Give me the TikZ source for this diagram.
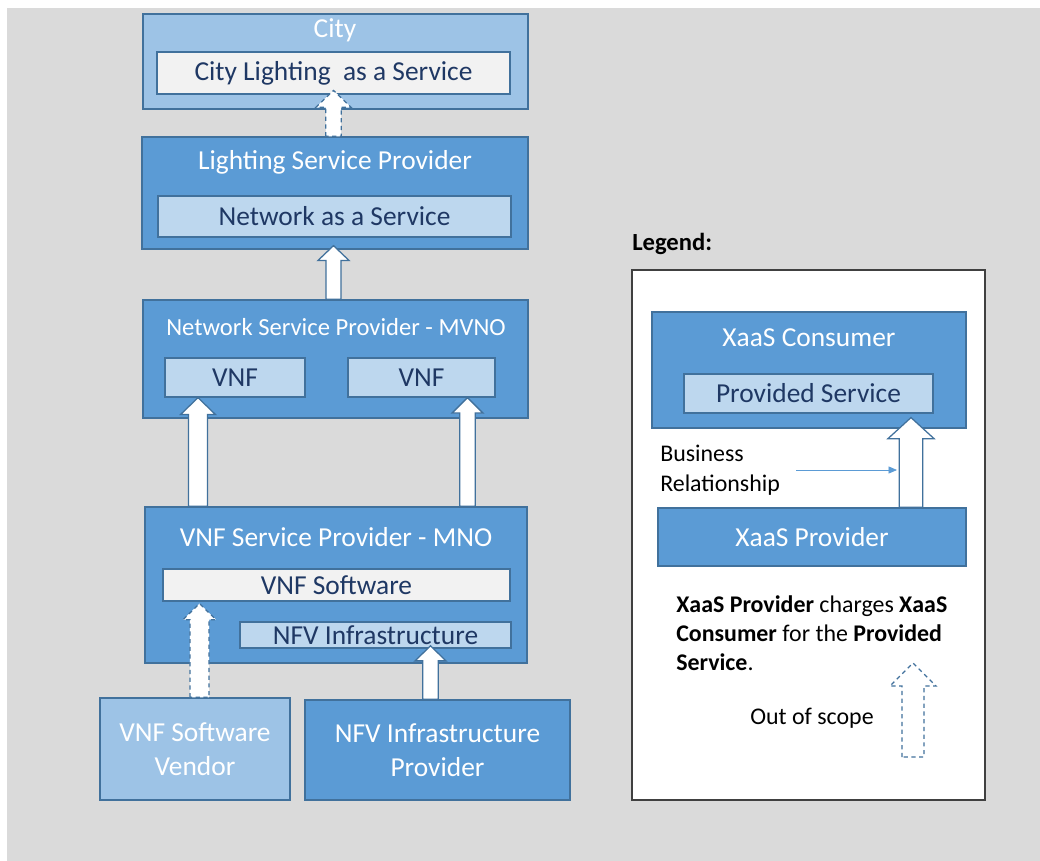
\documentclass[tikz,border=0pt]{standalone}
\usepackage{fontspec}
\setmainfont{Carlito}
\usepackage{tikz}
\usetikzlibrary{arrows.meta,positioning,calc}
\usepackage{xcolor}

\definecolor{bggray}{RGB}{218,218,218}
\definecolor{darkfill}{RGB}{91,155,213}
\definecolor{lightfill}{RGB}{157,195,230}
\definecolor{palefill}{RGB}{189,215,238}
\definecolor{offwhite}{RGB}{242,242,242}
\definecolor{edgeblue}{RGB}{65,113,156}
\definecolor{navytext}{RGB}{31,56,100}
\definecolor{legendedge}{RGB}{64,64,64}

\tikzset{
	sz/.style 2 args={minimum width=#1*0.025cm,minimum height=#2*0.025cm},
	bigfont/.style={font=\fontsize{19.5}{24}\selectfont},
	smallfont/.style={font=\fontsize{17}{20.5}\selectfont},
	blockarrow/.style n args={3}{to path={let \p1=(\tikztostart),\p2=(\tikztotarget) in
		(\x1-#1,\y1) -- (\x1-#1,\y2-#3) -- (\x1-#2,\y2-#3) -- (\x1,\y2)
		-- (\x1+#2,\y2-#3) -- (\x1+#1,\y2-#3) -- (\x1+#1,\y1) -- cycle}},
}

\begin{document}
\begin{tikzpicture}[x=0.025cm,y=-0.025cm,
		outer/.style={draw=edgeblue,line width=0.9pt,inner sep=0pt},
		inner/.style={draw=edgeblue,line width=0.9pt,inner sep=0pt,bigfont,text=navytext},
		title/.style={bigfont,text=white,inner sep=0pt},
		arrowbox/.style={draw=edgeblue,line width=0.9pt,fill=white},
		scopearrow/.style={arrowbox,dash pattern=on 3pt off 2.5pt}]
	\useasboundingbox (0,0) rectangle (1040,861);
	\fill[white] (0,0) rectangle (1040,861);
	\fill[bggray] (7,8) rectangle (1040,861);
	
	% left stack
	\begin{scope}[every node/.style={outer}]
		\node[fill=lightfill,sz={385}{95}] (city) at (335.5,61.5) {};
		\node[fill=darkfill,sz={386}{112}] (lsp) at (335,193) {};
		\node[fill=darkfill,sz={385}{118}] (nsp) at (335.5,359) {};
		\node[fill=darkfill,sz={382}{156}] (mno) at (336,585) {};
		\node[fill=lightfill,sz={190}{102},title,align=center] (vendor) at (195,749) {VNF Software\\Vendor};
		\node[fill=darkfill,sz={265}{100},title,align=center] (nfvp) at (437.5,750) {NFV Infrastructure\\Provider};
	\end{scope}
	\node[title] (cityT) at (335,30) {City};
	\node[title] (lspT) at (335,162) {Lighting Service Provider};
	\node[title,font=\fontsize{17.5}{21}\selectfont] (nspT) at (336,327) {Network Service Provider - MVNO};
	\node[title] (mnoT) at (336,537) {VNF Service Provider - MNO};
	
	\begin{scope}[every node/.style={inner}]
		\node[fill=offwhite,sz={353}{42}] (clas) at (333.5,73) {City Lighting\ \ as a Service};
		\node[fill=palefill,sz={353}{41}] (naas) at (334.5,216.5) {Network as a Service};
		\node[fill=palefill,sz={140}{39}] (vnfa) at (235,377.5) {VNF};
		\node[fill=palefill,sz={147}{39}] (vnfb) at (421.5,377.5) {VNF};
		\node[fill=offwhite,sz={347}{32}] (vsw) at (336.5,585) {VNF Software};
		\node[fill=palefill,sz={271}{26}] (nfvi) at (375.5,635) {NFV Infrastructure};
	\end{scope}
	
	\coordinate (la) at (198,0);
	\coordinate (ra) at (467.5,0);
	\coordinate (sa) at (199.5,0);
	\coordinate (ia) at (430.5,0);
	\draw[scopearrow,blockarrow={5.5}{12.5}{12}] (lsp.north -| clas.south) to ([yshift=3pt]clas.south);
	\draw[arrowbox,blockarrow={5.3}{11}{10.5}] (nsp.north -| clas.south) to ([yshift=-5.7pt]naas.south);
	\draw[arrowbox,blockarrow={6.8}{12.4}{12}] (mno.north -| la) to (vnfa.south -| la);
	\draw[arrowbox,blockarrow={5.5}{11}{11}] (mno.north -| ra) to (vnfb.south -| ra);
	\draw[scopearrow,blockarrow={6.8}{11.7}{11.4}] (vendor.north -| sa) to ([yshift=-1.4pt]vsw.south -| sa);
	\draw[arrowbox,blockarrow={5.5}{11}{10.7}] (nfvp.north -| ia) to ([yshift=2pt]nfvi.south -| ia);
	
	% legend
	\node[font=\fontsize{17.5}{21}\selectfont\bfseries,anchor=west,inner sep=0pt] (legT) at (632,244) {Legend:};
	\node[draw=legendedge,fill=white,line width=1pt,sz={353}{530}] (legend) at (808.5,535) {};
	\begin{scope}[every node/.style={outer}]
		\node[fill=darkfill,sz={314}{116}] (xc) at (809,370) {};
		\node[fill=darkfill,sz={308}{58},title] (xp) at (812,537) {XaaS Provider};
	\end{scope}
	\node[title] (xcT) at (809,338) {XaaS Consumer};
	\node[inner,fill=palefill,sz={249}{39}] (ps) at (808.5,393.5) {Provided Service};
	\coordinate (ga) at (911,0);
	\draw[arrowbox,blockarrow={8.3}{16.4}{15}] (xp.north -| ga) to ([yshift=-2.8pt]ps.south -| ga);
	\node[smallfont,align=left,anchor=west,inner sep=0pt] (biz) at (660,470) {Business\\[1pt]Relationship};
	\coordinate (bizS) at (796,470);
	\coordinate (bizE) at (897,470);
	\draw[darkfill,line width=0.6pt,-{Triangle[length=6pt,width=5pt]}] (bizS) -- (bizE);
	\node[smallfont,align=left,anchor=west,inner sep=0pt] (note) at (676,633) {\textbf{XaaS Provider} charges \textbf{XaaS}\\\textbf{Consumer} for the \textbf{Provided}\\\textbf{Service}.};
	\node[smallfont,inner sep=0pt] (oos) at (812,718) {Out of scope};
	\coordinate (oosB) at (913,757);
	\coordinate (oosT) at (913,663);
	\draw[edgeblue,line width=0.9pt,dash pattern=on 3pt off 2.5pt,blockarrow={7.8}{16.4}{16.4}] (oosB) to (oosT);
\end{tikzpicture}
\end{document}
